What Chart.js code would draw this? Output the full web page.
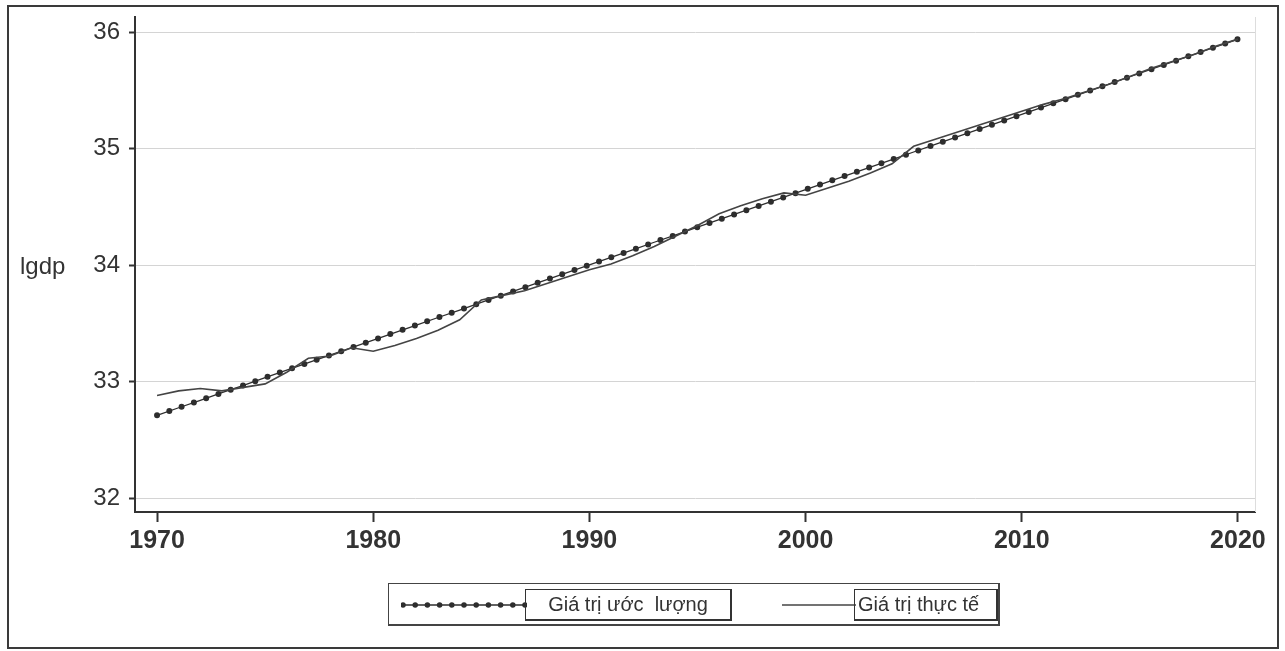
<!DOCTYPE html>
<html lang="vi">
<head>
<meta charset="utf-8">
<title>lgdp</title>
<script src="https://cdn.jsdelivr.net/npm/chart.js@4.4.1/dist/chart.umd.min.js"></script>
<style>
  html, body { margin: 0; padding: 0; background: #fff; }
  #page {
    position: relative; width: 1285px; height: 651px; overflow: hidden;
    font-family: "Liberation Sans", Arial, sans-serif; color: #333;
  }
  #frame {
    position: absolute; left: 7px; top: 5px; width: 1272px; height: 644px;
    box-sizing: border-box; border: 2px solid #3a3a3a;
  }
  #chart { position: absolute; left: 0; top: 0; }
  #ytitle {
    position: absolute; left: 20px; top: 254px;
    font-size: 24px; line-height: 24px; color: #333;
  }
  #legend {
    position: absolute; left: 388px; top: 583px; width: 612px; height: 43px;
    box-sizing: border-box; border-style: solid; border-color: #444;
    border-width: 1px 2px 2px 1px;
  }
  .sample { position: absolute; top: 16px; height: 10px; }
  .key {
    position: absolute; top: 5px; height: 32px; box-sizing: border-box;
    border-style: solid; border-color: #333; border-width: 1px 2px 2px 1px;
    font-size: 20px; line-height: 29px; white-space: pre; color: #333;
  }
</style>
</head>
<body>
<div id="page">
  <div id="frame"></div>
  <canvas id="chart" width="1285" height="651"></canvas>
  <div id="ytitle">lgdp</div>
  <div id="legend">
    <svg class="sample" style="left:12px;width:126px" viewBox="0 0 126 10">
      <line x1="2" y1="5" x2="124" y2="5" stroke="#2e2e2e" stroke-width="1.3"/>
      <line x1="2" y1="5" x2="124" y2="5" stroke="#2e2e2e" stroke-width="5.5"
            stroke-linecap="round" stroke-dasharray="0 12.2"/>
    </svg>
    <div class="key" style="left:136px;width:207px;text-align:center;">Giá trị ước  lượng</div>
    <svg class="sample" style="left:393px;width:74px" viewBox="0 0 74 10">
      <line x1="0" y1="5" x2="74" y2="5" stroke="#444" stroke-width="1.6"/>
    </svg>
    <div class="key" style="left:465px;width:144px;padding-left:3px;">Giá trị thực tế</div>
  </div>
</div>

<script>
// Annual observations, 1970-2020
const years = [
  1970, 1971, 1972, 1973, 1974, 1975, 1976, 1977, 1978, 1979,
  1980, 1981, 1982, 1983, 1984, 1985, 1986, 1987, 1988, 1989,
  1990, 1991, 1992, 1993, 1994, 1995, 1996, 1997, 1998, 1999,
  2000, 2001, 2002, 2003, 2004, 2005, 2006, 2007, 2008, 2009,
  2010, 2011, 2012, 2013, 2014, 2015, 2016, 2017, 2018, 2019,
  2020
];

// Estimated (fitted) lgdp
const lgdpFitted = [
  32.710, 32.775, 32.839, 32.904, 32.968, 33.033, 33.098, 33.162, 33.227, 33.291,
  33.356, 33.421, 33.485, 33.550, 33.614, 33.679, 33.744, 33.808, 33.873, 33.937,
  34.002, 34.067, 34.131, 34.196, 34.260, 34.325, 34.390, 34.454, 34.519, 34.583,
  34.648, 34.713, 34.777, 34.842, 34.906, 34.971, 35.036, 35.100, 35.165, 35.229,
  35.294, 35.359, 35.423, 35.488, 35.552, 35.617, 35.682, 35.746, 35.811, 35.875,
  35.940
];

// Actual lgdp
const lgdpActual = [
  32.88, 32.92, 32.94, 32.92, 32.95, 32.98, 33.08, 33.20, 33.22, 33.29,
  33.26, 33.31, 33.37, 33.44, 33.53, 33.70, 33.74, 33.78, 33.84, 33.90,
  33.96, 34.01, 34.08, 34.16, 34.25, 34.34, 34.44, 34.51, 34.57, 34.62,
  34.60, 34.66, 34.72, 34.79, 34.87, 35.02, 35.08, 35.14, 35.20, 35.26,
  35.32, 35.38, 35.43, 35.49, 35.55, 35.62, 35.69, 35.75, 35.81, 35.88,
  35.94
];

const xTickValues = [1970, 1980, 1990, 2000, 2010, 2020];
const yTickValues = [32, 33, 34, 35, 36];

const toPoints = (vals) => years.map((x, i) => ({ x: x, y: vals[i] }));

// light frame on the right edge of the plot region
const plotEdge = {
  id: 'plotEdge',
  beforeDatasetsDraw(chart) {
    const { ctx, chartArea: a } = chart;
    ctx.save();
    ctx.strokeStyle = '#dddddd';
    ctx.lineWidth = 1;
    ctx.beginPath();
    ctx.moveTo(Math.round(a.right) + 0.5, a.top);
    ctx.lineTo(Math.round(a.right) + 0.5, a.bottom);
    ctx.stroke();
    ctx.restore();
  }
};

// keep the plot box where the layout padding puts it
const noLabelPadding = (s) => {
  s.paddingTop = 0; s.paddingBottom = 0;
  s.paddingLeft = 0; s.paddingRight = 0;
};

const fontFamily = '"Liberation Sans", Arial, sans-serif';

new Chart(document.getElementById('chart'), {
  type: 'line',
  data: {
    datasets: [
      {
        label: 'Giá trị thực tế',
        data: toPoints(lgdpActual),
        borderColor: '#444',
        borderWidth: 1.6,
        pointRadius: 0,
        fill: false
      },
      {
        label: 'Giá trị ước lượng',
        data: toPoints(lgdpFitted),
        borderColor: '#2e2e2e',
        borderWidth: 1.3,
        pointRadius: 0,
        fill: false
      },
      {
        label: 'Giá trị ước lượng',
        data: toPoints(lgdpFitted),
        borderColor: '#2e2e2e',
        borderWidth: 6,
        borderDash: [0, 13],
        borderCapStyle: 'round',
        pointRadius: 0,
        fill: false
      }
    ]
  },
  options: {
    responsive: false,
    animation: false,
    layout: { padding: { left: 0, top: 17, right: 30, bottom: 79 } },
    plugins: { legend: { display: false }, tooltip: { enabled: false } },
    elements: { line: { tension: 0 } },
    scales: {
      x: {
        type: 'linear',
        min: 1968.98,
        max: 2020.79,
        afterBuildTicks: (s) => { s.ticks = xTickValues.map((v) => ({ value: v })); },
        afterFit: (s) => { s.height = 60; noLabelPadding(s); },
        grid: {
          drawOnChartArea: false, drawTicks: true,
          tickLength: 10, tickColor: '#333', tickWidth: 2
        },
        border: { display: true, color: '#333', width: 2 },
        ticks: {
          autoSkip: false, maxRotation: 0, padding: 4,
          color: '#333',
          font: { family: fontFamily, size: 25, weight: 'bold' },
          callback: (v) => String(v)
        }
      },
      y: {
        type: 'linear',
        min: 31.88,
        max: 36.13,
        afterBuildTicks: (s) => { s.ticks = yTickValues.map((v) => ({ value: v })); },
        afterFit: (s) => { s.width = 135; noLabelPadding(s); },
        grid: {
          color: '#d4d4d4', lineWidth: 1,
          tickLength: 6, tickColor: '#333', tickWidth: 2
        },
        border: { display: true, color: '#333', width: 2 },
        ticks: {
          padding: 9, color: '#333',
          font: { family: fontFamily, size: 24 },
          callback: (v) => String(v)
        }
      }
    }
  },
  plugins: [plotEdge]
});
</script>
</body>
</html>
